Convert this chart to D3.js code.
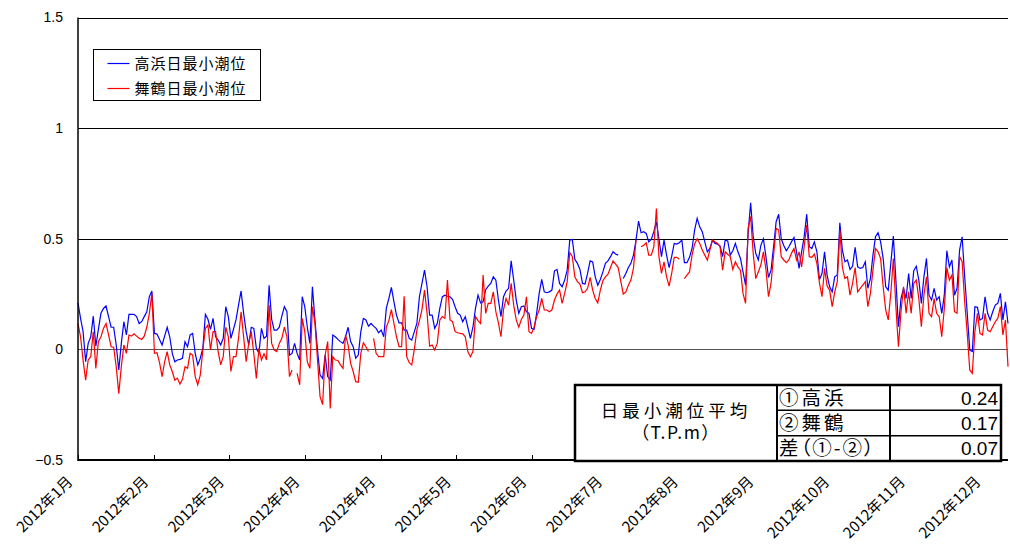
<!DOCTYPE html>
<html>
<head>
<meta charset="utf-8">
<script src="https://cdn.jsdelivr.net/npm/d3@7/dist/d3.min.js"></script>
<style>
  body { margin: 0; padding: 0; background-color: #FFFFFF; }
  svg { display: block; }
  text { font-family: "Noto Sans CJK JP", sans-serif; fill: #000; }
  .num { font-family: "Liberation Sans", Arial, sans-serif; }
  .palt { font-feature-settings: "palt" 1; }
</style>
</head>
<body>
<div id="chart"></div>
<script>
// x axis labels (as printed on the original chart)
var xLabels = ["2012年1月", "2012年2月", "2012年3月", "2012年4月", "2012年4月", "2012年5月",
               "2012年6月", "2012年7月", "2012年8月", "2012年9月", "2012年10月", "2012年11月", "2012年12月"];
var yTicks = [1.5, 1, 0.5, 0, -0.5];

var seriesNames = ["高浜日最小潮位", "舞鶴日最小潮位"];
var seriesColors = ["#0000FF", "#FF0000"];

// daily minimum tide level, 2012 (T.P. m), null = missing
var takahama = [
  0.21, 0.14, 0.08, -0.056, 0.027, 0.057, 0.15, 0.015, 0.09, 0.163,
  0.185, 0.196, 0.148, 0.10, 0.10, 0.02, -0.093, 0.027, 0.125, 0.065,
  0.158, 0.158, 0.158, 0.148, 0.117, 0.125, 0.148, 0.17, 0.238, 0.264,
  0.072, 0.069, 0.045, 0.02, 0.06, 0.10, 0.057, -0.018, -0.056, -0.048,
  -0.045, -0.04, 0.035, 0.012, 0.065, 0.072, -0.018, -0.07, -0.04, 0.005,
  0.158, 0.136, 0.09, 0.14, 0.057, 0.042, 0.02, 0.05, 0.193, 0.148,
  0.05, 0.09, 0.133, 0.2, 0.264, 0.163, 0.08, 0.02, 0.10, 0.095,
  0.005, -0.018, 0.095, 0.05, 0.06, 0.29, 0.136, 0.087, 0.087, 0.10,
  0.15, 0.193, 0.17, -0.026, -0.018, 0.027, -0.018, -0.048, 0.238, 0.193,
  0.1, 0.027, 0.283, 0.133, -0.003, -0.116, -0.131, -0.026, -0.123, -0.139,
  0.065, 0.057, 0.045, 0.035, 0.027, 0.057, 0.10, 0.035, 0.012, -0.04,
  -0.026, 0.08, 0.14, 0.133, 0.105, 0.117, 0.105, 0.095, 0.075, 0.087,
  0.057, 0.185, 0.23, 0.28, 0.215, 0.155, 0.12, 0.12, 0.087, 0.087,
  0.05, 0.042, 0.08, 0.117, 0.238, 0.298, 0.358, 0.283, 0.155, 0.155,
  0.095, 0.117, 0.185, 0.238, 0.245, 0.24, 0.238, 0.226, 0.193, 0.163,
  0.155, 0.125, 0.148, 0.10, 0.05, 0.10, 0.185, 0.245, 0.21, 0.215,
  0.27, 0.286, 0.298, 0.328, 0.313, 0.223, 0.148, 0.238, 0.264, 0.276,
  0.40, 0.313, 0.223, 0.163, 0.193, 0.196, 0.17, 0.163, 0.095, 0.09,
  0.163, 0.253, 0.316, 0.26, 0.256, 0.26, 0.268, 0.355, 0.361, 0.298,
  0.283, 0.313, 0.358, 0.494, 0.497, 0.407, 0.389, 0.361, 0.298, 0.295,
  0.343, 0.40, 0.395, 0.328, 0.29, 0.316, 0.35, 0.389, 0.40, 0.419,
  0.441, 0.431, 0.426, null, 0.32, 0.343, 0.37, 0.389, 0.426, 0.494,
  0.58, 0.527, 0.532, 0.524, 0.486, 0.497, 0.532, 0.577, 0.50, 0.419,
  0.494, 0.426, 0.37, 0.42, 0.479, 0.476, 0.482, 0.494, 0.392, 0.392,
  0.416, 0.456, 0.539, 0.592, 0.554, 0.532, 0.486, 0.441, 0.456, 0.494,
  0.479, 0.476, 0.467, 0.419, 0.494, 0.49, 0.426, 0.446, 0.479, 0.441,
  0.411, 0.35, 0.29, 0.524, 0.663, 0.509, 0.434, 0.404, 0.47, 0.50,
  0.419, 0.325, 0.358, 0.464, 0.577, 0.611, 0.50, 0.47, 0.446, 0.464,
  0.486, 0.506, 0.441, 0.366, 0.441, 0.509, 0.611, 0.464, 0.456, 0.486,
  0.441, 0.316, 0.343, 0.441, 0.336, 0.283, 0.26, 0.328, 0.336, 0.572,
  0.449, 0.396, 0.404, 0.361, 0.376, 0.461, 0.373, 0.366, 0.37, 0.396,
  0.276, 0.32, 0.426, 0.509, 0.527, 0.486, 0.411, 0.283, 0.268, 0.389,
  0.512, 0.313, 0.102, 0.23, 0.276, 0.23, 0.343, 0.23, 0.355, 0.376,
  0.313, 0.208, 0.328, 0.411, 0.245, 0.223, 0.276, 0.223, 0.238, 0.163,
  0.245, 0.446, 0.373, 0.404, 0.245, 0.276, 0.449, 0.509, 0.328, 0.163,
  -0.003, -0.01, 0.193, 0.19, 0.133, 0.14, 0.238, 0.163, 0.133, 0.17,
  0.2, 0.208, 0.253, 0.133, 0.215, 0.117
];

var maizuru = [
  0.117, 0.057, -0.05, -0.139, -0.048, -0.033, 0.08, -0.086, 0.035, 0.057,
  0.095, 0.117, 0.065, 0.012, 0.01, -0.078, -0.2, -0.078, 0.02, -0.018,
  0.065, 0.06, 0.07, 0.06, 0.05, 0.045, 0.06, 0.1, 0.163, 0.253,
  -0.018, -0.015, -0.06, -0.123, -0.056, -0.01, -0.07, -0.1, -0.139, -0.13,
  -0.157, -0.135, -0.078, -0.085, -0.018, -0.026, -0.123, -0.16, -0.115, -0.003,
  0.095, 0.11, -0.003, 0.08, 0.08, -0.01, -0.07, -0.033, 0.10, 0.057,
  -0.1, -0.033, -0.033, 0.05, 0.17, 0.057, -0.056, 0.027, 0.08, -0.02,
  -0.131, 0.005, -0.048, -0.02, -0.048, 0.2, 0.027, -0.003, -0.01, 0.027,
  0.05, 0.10, 0.057, -0.123, -0.093, null, -0.108, -0.16, 0.14, 0.08,
  -0.056, -0.086, 0.193, 0.117, -0.048, -0.214, -0.25, -0.026, 0.035, -0.267,
  -0.033, -0.048, -0.05, -0.07, -0.086, 0.065, 0.02, -0.063, -0.1, -0.146,
  -0.149, -0.018, 0.03, 0.012, -0.01, null, 0.05, -0.018, -0.033, -0.033,
  -0.033, 0.10, 0.13, 0.18, 0.117, 0.057, 0.012, 0.012, 0.24, -0.033,
  -0.06, -0.07, 0.0, 0.087, 0.13, 0.18, 0.268, 0.163, 0.015, 0.02,
  -0.003, 0.027, 0.133, 0.148, 0.14, 0.313, 0.133, 0.125, 0.08, 0.075,
  0.072, 0.07, 0.057, -0.01, -0.033, -0.01, 0.148, 0.13, 0.117, 0.336,
  0.163, 0.208, 0.208, 0.26, 0.17, 0.12, 0.057, 0.18, 0.23, 0.2,
  0.298, 0.2, 0.133, 0.10, 0.135, 0.155, 0.238, 0.08, 0.072, 0.1,
  0.148, 0.178, 0.23, 0.178, 0.178, 0.17, 0.178, 0.223, 0.25, 0.268,
  0.208, 0.253, 0.306, 0.437, 0.42, 0.328, 0.306, 0.295, 0.256, 0.26,
  0.276, 0.325, 0.268, 0.23, 0.21, 0.268, 0.31, 0.328, 0.34, 0.37,
  0.40, 0.385, 0.37, 0.31, 0.25, 0.26, 0.29, 0.313, 0.366, 0.494,
  null, 0.464, 0.47, 0.482, 0.426, 0.426, 0.464, 0.637, 0.419, 0.343,
  0.396, 0.328, 0.286, 0.343, 0.416, 0.416, 0.407, null, 0.32, 0.336,
  0.35, 0.426, 0.476, 0.50, 0.479, 0.449, 0.426, 0.404, 0.449, 0.494,
  0.486, 0.479, 0.464, 0.358, 0.441, 0.43, 0.419, 0.361, 0.396, 0.373,
  0.358, 0.253, 0.208, 0.547, 0.60, 0.434, 0.32, 0.35, 0.381, 0.441,
  0.361, 0.238, 0.298, 0.426, 0.547, 0.539, 0.419, 0.404, 0.392, 0.404,
  0.434, 0.456, 0.404, 0.441, 0.373, 0.464, 0.562, 0.419, 0.416, 0.431,
  0.389, 0.30, 0.238, 0.366, 0.286, 0.268, 0.193, 0.26, 0.306, 0.539,
  0.37, 0.32, 0.328, 0.245, 0.298, 0.37, 0.26, 0.276, 0.29, 0.306,
  0.193, 0.253, 0.358, 0.456, 0.441, 0.411, 0.283, 0.178, 0.133, 0.253,
  0.411, 0.193, 0.012, 0.17, 0.283, 0.163, 0.26, 0.163, 0.298, 0.313,
  0.23, 0.102, 0.245, 0.328, 0.163, 0.148, 0.23, 0.163, 0.148, 0.057,
  0.185, 0.37, 0.313, 0.336, 0.17, 0.163, 0.419, 0.396, 0.215, 0.072,
  -0.093, -0.108, 0.08, 0.163, 0.072, 0.065, 0.163, 0.087, 0.08, 0.102,
  0.125, 0.14, 0.193, 0.065, 0.133, -0.078
];

// summary table
var tableTitle = ["日最小潮位平均", "（T.P.m）"];
var tableRows = ["①高浜", "②舞鶴", "差（①-②）"];
var tableValues = ["0.24", "0.17", "0.07"];

var width = 1010, height = 546;
var plotL = 78, plotR = 1008, plotT = 17.5, plotB = 460;

var svg = d3.select("#chart").append("svg")
    .attr("width", width)
    .attr("height", height);

svg.append("rect").attr("width", width).attr("height", height).attr("fill", "#fff");

var x = d3.scaleLinear().domain([0, takahama.length - 1]).range([plotL, plotR]);
var y = d3.scaleLinear().domain([-0.5, 1.5]).range([plotB, plotT]);
var xt = d3.scalePoint().domain(d3.range(xLabels.length)).range([plotL, 986]);

// grid lines
svg.selectAll("line.grid")
    .data(yTicks.filter(function(d) { return d > -0.5; }))
    .enter().append("line")
    .attr("class", "grid")
    .attr("x1", plotL).attr("x2", plotR)
    .attr("y1", function(d) { return Math.round(y(d)) + 0.5; })
    .attr("y2", function(d) { return Math.round(y(d)) + 0.5; })
    .attr("stroke", function(d) { return d === 0 ? "#555" : "#000"; })
    .attr("stroke-width", 1);

// y labels
svg.selectAll("text.ylab")
    .data(yTicks)
    .enter().append("text")
    .attr("class", "ylab num")
    .attr("x", 63)
    .attr("y", function(d) { return y(d); })
    .attr("dy", "0.35em")
    .attr("text-anchor", "end")
    .style("font-size", "14px")
    .text(function(d) { return d < 0 ? "\u2212" + Math.abs(d) : d; });

// series
var line = d3.line()
    .defined(function(d) { return d != null; })
    .x(function(d, i) { return x(i); })
    .y(function(d) { return y(d); });

[takahama, maizuru].forEach(function(s, k) {
    svg.append("path")
        .datum(s)
        .attr("d", line)
        .attr("fill", "none")
        .attr("stroke", seriesColors[k])
        .attr("stroke-width", 1.2);
});

// axes
svg.append("line")
    .attr("x1", plotL).attr("x2", plotL)
    .attr("y1", plotT).attr("y2", plotB + 1)
    .attr("stroke", "#000").attr("stroke-width", 1.5);
svg.append("line")
    .attr("x1", plotL).attr("x2", plotR)
    .attr("y1", plotB).attr("y2", plotB)
    .attr("stroke", "#000").attr("stroke-width", 2);

// x ticks and labels
svg.selectAll("line.xtick")
    .data(d3.range(xLabels.length))
    .enter().append("line")
    .attr("class", "xtick")
    .attr("x1", function(d) { return Math.round(xt(d)) + 0.5; })
    .attr("x2", function(d) { return Math.round(xt(d)) + 0.5; })
    .attr("y1", plotB - 5).attr("y2", plotB)
    .attr("stroke", "#000");

svg.selectAll("text.xlab")
    .data(xLabels)
    .enter().append("text")
    .attr("class", "xlab")
    .attr("transform", function(d, i) { return "translate(" + (xt(i) - 8) + "," + 479 + ") rotate(-45)"; })
    .attr("text-anchor", "end")
    .attr("dy", "0.35em")
    .style("font-size", "15px")
    .text(function(d) { return d; });

// legend
var legend = svg.append("g").attr("transform", "translate(93.5,49.5)");
legend.append("rect")
    .attr("width", 167).attr("height", 51)
    .attr("fill", "#fff").attr("stroke", "#000").attr("stroke-width", 1);
seriesNames.forEach(function(name, k) {
    var ly = 14 + k * 25;
    legend.append("line")
        .attr("x1", 14).attr("x2", 36)
        .attr("y1", ly).attr("y2", ly)
        .attr("stroke", seriesColors[k]).attr("stroke-width", 1.2);
    legend.append("text")
        .attr("x", 41).attr("y", ly)
        .attr("dy", "0.35em")
        .style("font-size", "15px")
        .style("letter-spacing", "1px")
        .text(name);
});

// summary table
var tb = svg.append("g").attr("transform", "translate(575,385)");
var tw = 426, th = 76, c1 = 202, c2 = 315;
var rowH = th / tableRows.length;
tb.append("rect")
    .attr("width", tw).attr("height", th)
    .attr("fill", "#fff").attr("stroke", "#000").attr("stroke-width", 2.5);
[c1, c2].forEach(function(cx) {
    tb.append("line").attr("x1", cx).attr("x2", cx).attr("y1", 0).attr("y2", th)
        .attr("stroke", "#000").attr("stroke-width", 2);
});
d3.range(1, tableRows.length).forEach(function(r) {
    tb.append("line").attr("x1", c1).attr("x2", tw)
        .attr("y1", r * rowH).attr("y2", r * rowH)
        .attr("stroke", "#000").attr("stroke-width", 1.5);
});
tb.selectAll("text.title")
    .data(tableTitle)
    .enter().append("text")
    .attr("x", c1 / 2)
    .attr("y", function(d, i) { return 26 + i * 22; })
    .attr("dy", "0.35em")
    .attr("text-anchor", "middle")
    .style("font-size", "17.5px")
    .style("letter-spacing", function(d, i) { return i === 0 ? "4px" : "1.5px"; })
    .text(function(d) { return d; });
tb.selectAll("text.rowname")
    .data(tableRows)
    .enter().append("text")
    .attr("class", "palt")
    .attr("x", c1 + 2)
    .attr("y", function(d, i) { return (i + 0.5) * rowH; })
    .attr("dy", "0.36em")
    .style("font-size", "19.5px")
    .style("letter-spacing", function(d, i) { return i < 2 ? "3px" : "2px"; })
    .text(function(d) { return d; });
tb.selectAll("text.val")
    .data(tableValues)
    .enter().append("text")
    .attr("class", "num")
    .attr("x", tw - 3)
    .attr("y", function(d, i) { return (i + 0.5) * rowH; })
    .attr("dy", "0.36em")
    .attr("text-anchor", "end")
    .style("font-size", "19px")
    .text(function(d) { return d; });
</script>
</body>
</html>
